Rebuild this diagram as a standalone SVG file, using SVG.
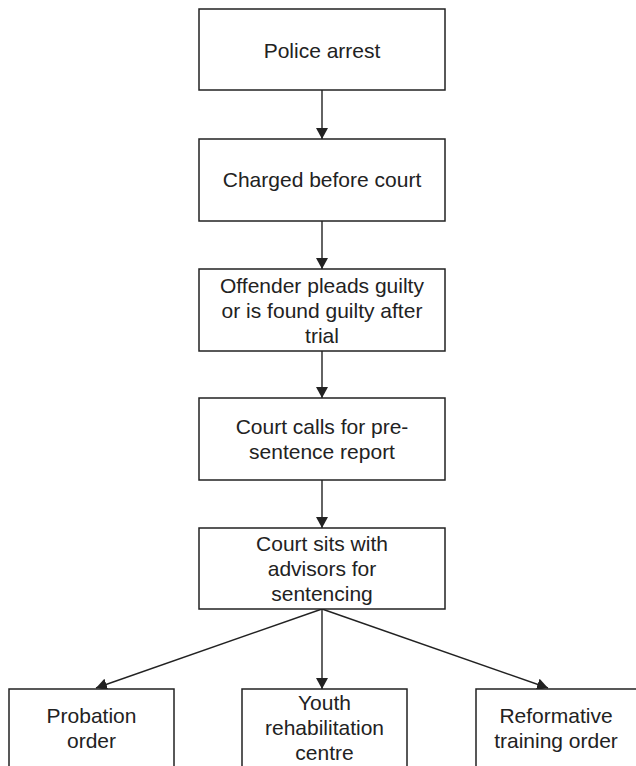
<svg xmlns="http://www.w3.org/2000/svg" width="636" height="766" viewBox="0 0 636 766">
<style>
.box{fill:#fff;stroke:#222;stroke-width:1.5}
.lbl{font-family:"Liberation Sans",Arial,sans-serif;font-size:21px;fill:#222;text-anchor:middle}
.con{stroke:#222;stroke-width:1.4;fill:none;marker-end:url(#ah)}
</style>
<defs>
<marker id="ah" markerUnits="userSpaceOnUse" markerWidth="12" markerHeight="12" refX="11" refY="6" orient="auto">
<path d="M0,0 L11,6 L0,12 Z" fill="#222"/>
</marker>
</defs>
<rect width="636" height="766" fill="#fff"/>
<g id="connectors">
<line class="con" x1="322" y1="90" x2="322" y2="139"/>
<line class="con" x1="322" y1="221" x2="322" y2="269"/>
<line class="con" x1="322" y1="351" x2="322" y2="398"/>
<line class="con" x1="322" y1="480" x2="322" y2="528"/>
<line class="con" x1="322" y1="609" x2="96" y2="688"/>
<line class="con" x1="322" y1="609" x2="322" y2="689"/>
<line class="con" x1="322" y1="609" x2="548" y2="688"/>
</g>
<g id="police-arrest">
<rect class="box" x="199" y="9" width="246" height="81"/>
<text class="lbl" x="322" y="58">Police arrest</text>
</g>
<g id="charged">
<rect class="box" x="199" y="139" width="246" height="82"/>
<text class="lbl" x="322" y="187">Charged before court</text>
</g>
<g id="guilty">
<rect class="box" x="199" y="269" width="246" height="82"/>
<text class="lbl" x="322" y="293">Offender pleads guilty</text>
<text class="lbl" x="322" y="318">or is found guilty after</text>
<text class="lbl" x="322" y="343">trial</text>
</g>
<g id="report">
<rect class="box" x="199" y="398" width="246" height="82"/>
<text class="lbl" x="322" y="434">Court calls for pre-</text>
<text class="lbl" x="322" y="459">sentence report</text>
</g>
<g id="sentencing">
<rect class="box" x="199" y="528" width="246" height="81"/>
<text class="lbl" x="322" y="551">Court sits with</text>
<text class="lbl" x="322" y="576">advisors for</text>
<text class="lbl" x="322" y="601">sentencing</text>
</g>
<g id="probation">
<rect class="box" x="9" y="689" width="165" height="90"/>
<text class="lbl" x="91.5" y="723">Probation</text>
<text class="lbl" x="91.5" y="748">order</text>
</g>
<g id="youth">
<rect class="box" x="242" y="689" width="165" height="90"/>
<text class="lbl" x="324.5" y="710">Youth</text>
<text class="lbl" x="324.5" y="735">rehabilitation</text>
<text class="lbl" x="324.5" y="760">centre</text>
</g>
<g id="reformative">
<rect class="box" x="476" y="689" width="165" height="90"/>
<text class="lbl" x="556" y="723">Reformative</text>
<text class="lbl" x="556" y="748">training order</text>
</g>
</svg>
